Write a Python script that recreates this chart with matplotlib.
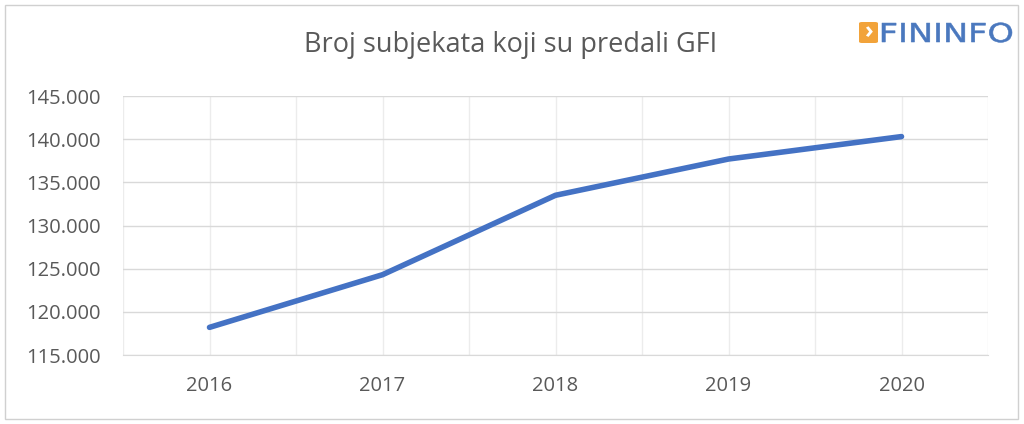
import matplotlib
matplotlib.use("Agg")
import matplotlib.pyplot as plt
from matplotlib.patches import Rectangle, FancyBboxPatch, PathPatch
from matplotlib.textpath import TextPath
from matplotlib.font_manager import FontProperties
from matplotlib.transforms import Affine2D

years = ["2016", "2017", "2018", "2019", "2020"]
values = [118200, 124300, 133500, 137700, 140300]
yticks = [115000, 120000, 125000, 130000, 135000, 140000, 145000]
title = "Broj subjekata koji su predali GFI"
logo_text = "FININFO"

plt.rcParams['font.family'] = ['Open Sans', 'DejaVu Sans']

W, H = 1024, 424
fig = plt.figure(figsize=(W / 100, H / 100), dpi=100)
fig.patches.append(Rectangle((5/W, 5/H), 1013/W, 414/H, transform=fig.transFigure,
                             fill=False, edgecolor="#d0d0d0", linewidth=1))
ax = fig.add_axes([123/W, 69/H, 865/W, 259/H])

x = list(range(len(years)))
ax.plot(x, values, color="#4472C4", linewidth=4, solid_capstyle="round", zorder=3)
ax.set_xlim(-0.5, len(years) - 0.5)
ax.set_ylim(115000, 145000)
ax.set_yticks(yticks)
ax.set_yticklabels([f"{v:,}".replace(",", ".") for v in yticks])
ax.set_xticks(x)
ax.set_xticklabels(years)
ax.set_xticks([i - 0.5 for i in range(len(years) + 1)], minor=True)
ax.grid(True, axis="y", color="#d9d9d9", linewidth=1)
ax.grid(True, axis="x", which="both", color="#ececec", linewidth=1)
for s in ["top", "right", "left"]:
    ax.spines[s].set_visible(False)
ax.spines["bottom"].set_color("#d9d9d9")
ax.tick_params(axis="both", which="both", length=0, colors="#595959", labelsize=14.5)
ax.tick_params(axis="x", pad=15)
ax.tick_params(axis="y", pad=16)
ax.set_axisbelow(True)

fig.text(511/W, 1 - 45/H, title, ha="center", va="center", fontsize=19.5, color="#595959")

# logo
fig.patches.append(FancyBboxPatch((859/W, 1 - 43/H), 19/W, 21/H, transform=fig.transFigure,
                                  boxstyle="round,pad=0,rounding_size=0.003", facecolor="#F2A33A", edgecolor="none"))
fig.text(868.5/W, 1 - 32.5/H, "›", ha="center", va="center", fontsize=17, color="white", fontweight="bold")
tp = TextPath((0, 0), logo_text, size=26, prop=FontProperties(family="DejaVu Sans"))
ext = tp.get_extents()
sx = 130 / ext.width
tr = Affine2D().translate(-ext.x0, 0).scale(sx, 1).translate(882, H - 42).scale(1 / W, 1 / H) + fig.transFigure
fig.patches.append(PathPatch(tp, transform=tr, facecolor="#4A78BE", edgecolor="#4A78BE", linewidth=0.4))

fig.savefig("out.png", dpi=100)
